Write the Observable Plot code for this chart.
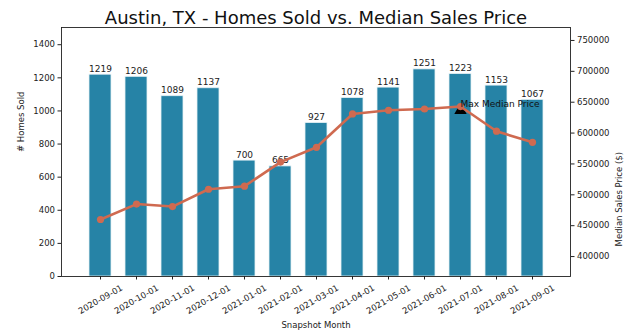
<!DOCTYPE html>
<html><head><meta charset="utf-8">
<script src="https://cdn.jsdelivr.net/npm/d3@7"></script>
<script src="https://cdn.jsdelivr.net/npm/@observablehq/plot@0.6"></script>
<style>
body{margin:0;background:#fff;font-family:"DejaVu Sans",sans-serif;}
#wrap{position:relative;width:641px;height:336px;}
#wrap svg{position:absolute;left:0;top:0;}
</style></head><body><div id="wrap"></div>
<script>
const months = ["2020-09-01","2020-10-01","2020-11-01","2020-12-01","2021-01-01","2021-02-01","2021-03-01","2021-04-01","2021-05-01","2021-06-01","2021-07-01","2021-08-01","2021-09-01"];
const homesSold = [1219,1206,1089,1137,700,665,927,1078,1141,1251,1223,1153,1067];
const medianPrice = [460000,485000,481000,509000,514000,553000,577000,631000,637000,639000,643000,603000,585000];
const leftTicks = [0,200,400,600,800,1000,1200,1400];
const rightTicks = [400000,450000,500000,550000,600000,650000,700000,750000];
const titleText = "Austin, TX - Homes Sold vs. Median Sales Price";
const xLabel = "Snapshot Month";
const yLeftLabel = "# Homes Sold";
const yRightLabel = "Median Sales Price ($)";
const annotationText = "Max Median Price";

const rows = months.map((m, i) => ({month: m, sold: homesSold[i], price: medianPrice[i]}));
const maxIdx = d3.maxIndex(medianPrice);
const maxRow = [rows[maxIdx]];

const W = 641, H = 336;
const margins = {marginTop: 27, marginBottom: 60, marginLeft: 61, marginRight: 71};
const xScale = {type: "band", domain: months, paddingInner: 0.4, paddingOuter: 0.63, align: 0.5};
const style = {fontFamily: "DejaVu Sans, sans-serif", fontSize: "8.5px", color: "#222", background: "transparent", overflow: "visible"};
const barColor = "#2683a6";
const lineColor = "#cf6a50";

const p1 = Plot.plot({
  width: W, height: H, ...margins, style,
  x: {...xScale, axis: null},
  y: {domain: [0, 1504], axis: null},
  marks: [
    Plot.barY(rows, {x: "month", y: "sold", fill: barColor, stroke: "#e6f2f6", strokeWidth: 0.8}),
    Plot.text(rows, {x: "month", y: "sold", text: d => String(d.sold), dy: -3, lineAnchor: "bottom", fontSize: 9, fill: "#222"}),
    Plot.axisY({ticks: leftTicks, tickFormat: d => String(d), tickSize: 3.5, tickPadding: 3, label: null, fontSize: 8.5}),
    Plot.axisX({tickSize: 3.5, tickFormat: () => "", label: null}),
    Plot.text(months, {x: d => d, text: d => d, frameAnchor: "bottom", dy: 23, rotate: -30, textAnchor: "middle", lineAnchor: "middle", fontSize: 8.5, fill: "#222"}),
    Plot.frame({stroke: "#222", strokeWidth: 0.9}),
    Plot.text([titleText], {text: d => d, frameAnchor: "top", dy: -4, lineAnchor: "bottom", fontSize: 18, fill: "#111"}),
    Plot.text([xLabel], {text: d => d, frameAnchor: "bottom", dy: 49, lineAnchor: "middle", fontSize: 8.5, fill: "#222"}),
    Plot.text([yLeftLabel], {text: d => d, frameAnchor: "left", dx: -40, rotate: -90, lineAnchor: "middle", fontSize: 8.5, fill: "#222"})
  ]
});

const p2 = Plot.plot({
  width: W, height: H, ...margins, style,
  x: {...xScale, axis: null},
  y: {domain: [367700, 771000], axis: null},
  marks: [
    Plot.dot(maxRow, {x: "month", y: "price", symbol: "triangle", r: 4.6, fill: "#000", dy: 4}),
    Plot.line(rows, {x: "month", y: "price", stroke: lineColor, strokeWidth: 2.6}),
    Plot.dot(rows, {x: "month", y: "price", r: 3.6, fill: lineColor}),
    Plot.text(maxRow, {x: "month", y: "price", text: () => annotationText, textAnchor: "start", lineAnchor: "middle", dy: -2, fontSize: 9, fill: "#111"}),
    Plot.axisY({anchor: "right", ticks: rightTicks, tickFormat: d => String(d), tickSize: 3.5, tickPadding: 3, label: null, fontSize: 8.5}),
    Plot.text([yRightLabel], {text: d => d, frameAnchor: "right", dx: 49, rotate: -90, lineAnchor: "middle", fontSize: 8.5, fill: "#222"})
  ]
});

const wrap = document.getElementById("wrap");
wrap.appendChild(p1);
wrap.appendChild(p2);
</script>
</body></html>
